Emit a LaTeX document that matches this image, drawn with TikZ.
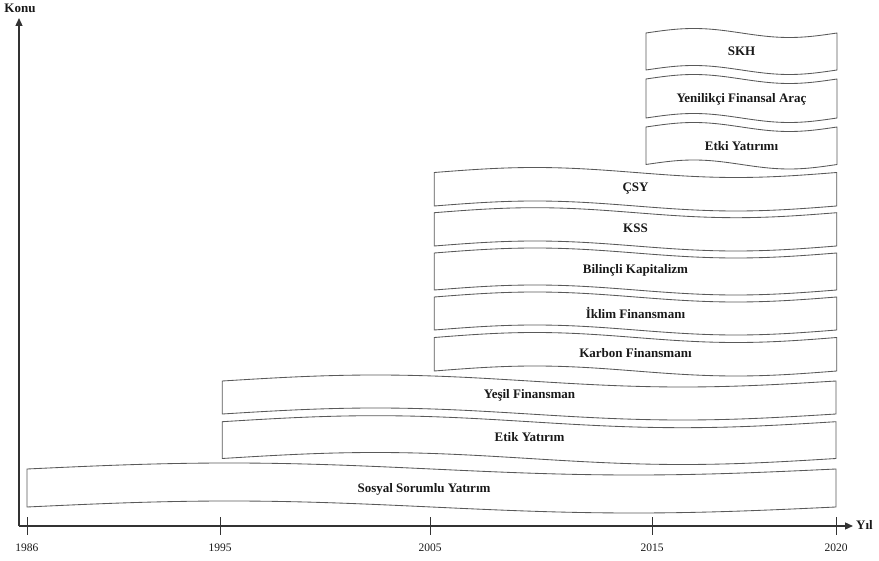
\documentclass[tikz,border=0pt]{standalone}
\usepackage{fontspec}
\setmainfont{Liberation Serif}
\usetikzlibrary{arrows.meta}

\tikzset{
  axisline/.style={line width=1.3pt, draw=black!80},
  tickline/.style={line width=1pt, draw=black!80},
  tapeline/.style={line width=0.85pt, draw=black!65, fill=white},
  tapetext/.style={font=\fontsize{13}{15}\selectfont\bfseries, text=black!90, inner sep=0pt},
  yeartext/.style={font=\fontsize{11.5}{13}\selectfont, text=black!90, inner sep=0pt},
  axistext/.style={font=\fontsize{13}{15}\selectfont\bfseries, text=black!90, inner sep=0pt},
}

% Wavy tape: #1 name, #2 left x, #3 right x, #4 top y, #5 bottom y,
% #6 wave amplitude, #7/#8 label position, #9 label
\newcommand\wavetape[9]{%
  \draw[tapeline] (#2,#5) -- (#2,#4)
    sin ({#2+0.25*(#3-#2)},{#4-#6}) cos ({#2+0.5*(#3-#2)},#4)
    sin ({#2+0.75*(#3-#2)},{#4+#6}) cos (#3,#4)
    -- (#3,#5)
    sin ({#2+0.75*(#3-#2)},{#5+#6}) cos ({#2+0.5*(#3-#2)},#5)
    sin ({#2+0.25*(#3-#2)},{#5-#6}) cos (#2,#5) -- cycle;
  \node[tapetext] (#1) at (#7,#8) {#9};}

\begin{document}
\begin{tikzpicture}[x=1pt,y=-1pt]
\useasboundingbox (0,0) rectangle (879,561);

% axes
\coordinate (origin) at (19,526);
\coordinate (ytip) at (19,18);
\coordinate (xtip) at (853,526);
\draw[axisline, -{Triangle[length=8pt,width=7pt]}] (origin) -- (ytip);
\draw[axisline, -{Triangle[length=8pt,width=7pt]}] (origin) -- (xtip);
\node[axistext] (konu) at (20,8) {Konu};
\node[axistext, anchor=west] (yil) at (856,525) {Yıl};

% year ticks
\foreach \x/\yr in {27/1986, 220/1995, 430/2005, 652/2015, 836/2020}{
  \coordinate (t\yr a) at (\x,517);
  \coordinate (t\yr b) at (\x,535);
  \draw[tickline] (t\yr a) -- (t\yr b);
  \node[yeartext] (y\yr) at (\x,548) {\yr};
}

% topics
\wavetape{skh}{646}{837}{33}{70}{4.5}{741.5}{51}{SKH}
\wavetape{yfa}{646}{837}{79}{118}{4.5}{741.5}{99}{Yenilikçi Finansal Araç}
\wavetape{ey}{646}{837}{127}{164.5}{4.5}{741.5}{146}{Etki Yatırımı}
\wavetape{csy}{434.3}{836.7}{172.5}{206}{5}{635.5}{188.5}{ÇSY}
\wavetape{kss}{434.3}{836.7}{212.7}{246}{5}{635.5}{228.5}{KSS}
\wavetape{bk}{434.3}{836.7}{253}{290}{5}{635.5}{270.5}{Bilinçli Kapitalizm}
\wavetape{if}{434.3}{836.7}{297}{330}{5}{635.5}{312.5}{İklim Finansmanı}
\wavetape{kf}{434.3}{836.7}{337.5}{371}{5}{635.5}{353.5}{Karbon Finansmanı}
\wavetape{yf}{222.3}{836}{381}{414}{6}{529.5}{395.5}{Yeşil Finansman}
\wavetape{eti}{222.3}{836}{421.7}{458.5}{6}{529.5}{437.5}{Etik Yatırım}
\wavetape{ssy}{27}{836}{469}{507}{6}{424}{489}{Sosyal Sorumlu Yatırım}
\end{tikzpicture}
\end{document}
